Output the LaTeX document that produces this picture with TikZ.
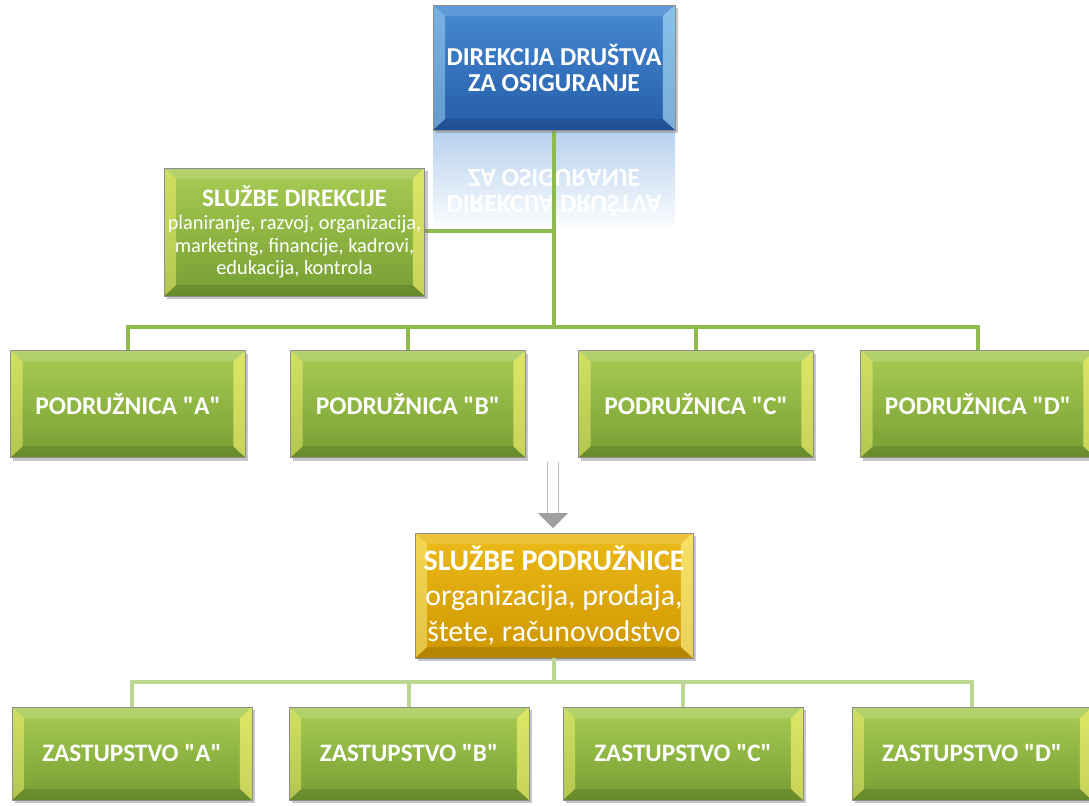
\documentclass[tikz,border=0pt]{standalone}
\usepackage{fontspec}
\setmainfont{Carlito}[Ligatures=TeXOff]
\usepackage{tikz}
\usetikzlibrary{shadows}

\definecolor{grnTop}{RGB}{168,204,84}
\definecolor{grnBot}{RGB}{118,158,50}
\definecolor{bluTop}{RGB}{72,138,212}
\definecolor{bluBot}{RGB}{36,92,168}
\definecolor{yelTop}{RGB}{236,186,24}
\definecolor{yelBot}{RGB}{206,150,0}
\definecolor{lineGrn}{RGB}{142,186,78}
\definecolor{lineGrnLt}{RGB}{188,214,148}

\tikzset{
  bevelbox/.style={
      draw=black!45, line width=0.4pt, align=center, text=white, inner sep=2pt,
      drop shadow={opacity=.45, shadow xshift=1.6pt, shadow yshift=-1.8pt},
      path picture={
        \path (path picture bounding box.north west) coordinate (bnw)
              (path picture bounding box.north east) coordinate (bne)
              (path picture bounding box.south west) coordinate (bsw)
              (path picture bounding box.south east) coordinate (bse);
        \fill[white,opacity=.15] (bnw) -- (bne) -- ([shift={(-.24cm,-.22cm)}]bne) -- ([shift={(.24cm,-.22cm)}]bnw) -- cycle;
        \fill[black,opacity=.12] (bsw) -- (bse) -- ([shift={(-.24cm,.22cm)}]bse) -- ([shift={(.24cm,.22cm)}]bsw) -- cycle;
        \fill[#1,opacity=.45] (bnw) -- ([shift={(.24cm,-.22cm)}]bnw) -- ([shift={(.24cm,.22cm)}]bsw) -- (bsw) -- cycle;
        \fill[#1,opacity=.6] (bne) -- ([shift={(-.24cm,-.22cm)}]bne) -- ([shift={(-.24cm,.22cm)}]bse) -- (bse) -- cycle;
      }},
  grnbox/.style={bevelbox=yellow!55!white, top color=grnTop, bottom color=grnBot},
  blubox/.style={bevelbox=cyan!30!white, top color=bluTop, bottom color=bluBot},
  yelbox/.style={bevelbox=yellow!40!white, top color=yelTop, bottom color=yelBot},
  unit/.style={grnbox, minimum width=4.7cm, minimum height=2.14cm,
      font=\fontsize{14.5}{17}\selectfont\bfseries},
  agency/.style={grnbox, minimum width=4.8cm, minimum height=1.86cm,
      font=\fontsize{14.3}{17}\selectfont\bfseries},
  conn/.style={lineGrn, line width=2.2pt},
  connlt/.style={lineGrnLt, line width=2.2pt}
}

\begin{document}
\begin{tikzpicture}[x=0.02cm, y=-0.02cm]
\useasboundingbox (0,0) rectangle (1089,805);

% reflection of the head office
\shade[top color=bluTop!40, bottom color=white] (433,130) rectangle (675,232);
\node[yscale=-1, text=white, align=center, font=\fontsize{14.7}{14.8}\selectfont\bfseries] (refl) at (554,193) {DIREKCIJA DRUŠTVA\\ZA OSIGURANJE};

\coordinate (bus1) at (554,327);
\coordinate (bus2) at (554,682);

\draw[conn] (554,130) -- (bus1);
\draw[conn] (294,231) -- (554,231);

\node[blubox, minimum width=4.84cm, minimum height=2.5cm,
      font=\fontsize{14.7}{14.8}\selectfont\bfseries] (dir) at (554,67.5) {DIREKCIJA DRUŠTVA\\ZA OSIGURANJE};
\node[grnbox, minimum width=5.1cm, minimum height=2.56cm,
      font=\fontsize{11.6}{13}\selectfont] (sdir) at (294.5,232)
      {{\fontsize{14.3}{15}\selectfont\bfseries SLUŽBE DIREKCIJE}\\planiranje, razvoj, organizacija,\\marketing, financije, kadrovi,\\edukacija, kontrola};

% branches
\node[unit] (pA) at (128,404) {PODRUŽNICA "A"};
\node[unit] (pB) at (408,404) {PODRUŽNICA "B"};
\node[unit] (pC) at (696,404) {PODRUŽNICA "C"};
\node[unit] (pD) at (978,404) {PODRUŽNICA "D"};

\draw[conn] (pA.north) |- (bus1) -| (pD.north);
\foreach \n in {pB,pC}
  \draw[conn] (\n.north) -- (\n.north |- bus1);

% arrow down to the branch services
\coordinate (a1) at (553,462);
\coordinate (a2) at (553,513);
\draw[gray!55, line width=0.9pt, double=white, double distance=5.5pt] (a1) -- (a2);
\fill[gray!75] (538,513) -- (568,513) -- (553,528) -- cycle;

\node[yelbox, minimum width=5.56cm, minimum height=2.5cm,
      font=\fontsize{17}{20}\selectfont] (spod) at (554,595.5)
      {{\fontsize{17}{20}\selectfont\bfseries SLUŽBE PODRUŽNICE}\\organizacija, prodaja,\\štete, računovodstvo};

% agencies
\node[agency] (zA) at (132,753.5) {ZASTUPSTVO "A"};
\node[agency] (zB) at (409,753.5) {ZASTUPSTVO "B"};
\node[agency] (zC) at (683,753.5) {ZASTUPSTVO "C"};
\node[agency] (zD) at (972,753.5) {ZASTUPSTVO "D"};

\draw[connlt] (spod.south) -- (bus2);
\draw[connlt] (zA.north) |- (bus2) -| (zD.north);
\foreach \n in {zB,zC}
  \draw[connlt] (\n.north) -- (\n.north |- bus2);
\end{tikzpicture}
\end{document}
